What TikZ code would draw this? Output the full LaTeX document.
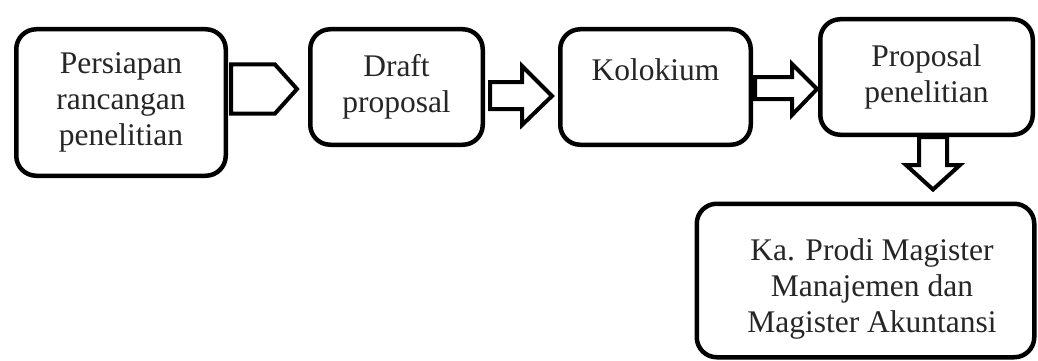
\documentclass[tikz,border=0pt]{standalone}
\usepackage{fontspec}
\setmainfont{Liberation Serif}
\usetikzlibrary{calc}
\begin{document}
\begin{tikzpicture}[x=1pt,y=-1pt,
  box/.style={draw=black, line width=4.5pt, rounded corners=20pt, fill=white, inner sep=0pt, align=center,
    font=\fontsize{31.5}{36}\selectfont, text=black!85},
  txt/.style={inner sep=0pt, align=center, font=\fontsize{31.5}{36}\selectfont, text=black!85},
  blockarrow/.style={draw=black, line width=4pt, fill=white, line join=miter}]
\useasboundingbox (0,0) rectangle (1038,361);
\node[box, minimum width=209.5pt, minimum height=146.5pt] (b1) at (121,102.5) {Persiapan\\rancangan\\penelitian};
\node[box, minimum width=172.5pt, minimum height=115.5pt] (b2) at (396.5,87) {Draft\\proposal};
\node[box, minimum width=190.5pt, minimum height=115.5pt] (b3) at (655.5,87) {};
\node[txt, anchor=north] (t3) at (655.5,58) {Kolokium};
\node[box, minimum width=212.5pt, minimum height=115.5pt] (b4) at (926.5,77) {Proposal\\penelitian};
\node[box, minimum width=337.5pt, minimum height=153.5pt] (b5) at (865.5,280.5) {};
\node[txt] (t5) at (872,289) {Ka. Prodi Magister\\Manajemen dan\\Magister Akuntansi};
% arrow 1: pentagon from b1 to b2
\draw[blockarrow] ($(b1.east)+(3,-38)$) -- ++(44,0) -- ($(b2.west)+(-11,2)$) -- ($(b1.east)+(47,11)$) -- ($(b1.east)+(3,11)$) -- cycle;
% arrow 2: b2 -> b3
\draw[blockarrow] ($(b2.east)+(5,-5)$) -- ++(32,0) -- ++(0,-16) -- ($(b3.west)+(-6,9)$) -- ($(b2.east)+(37,38)$) -- ++(0,-16) -- ($(b2.east)+(5,22)$) -- cycle;
% arrow 3: b3 -> b4
\draw[blockarrow] ($(b3.east)+(2,-10)$) -- ++(37,0) -- ++(0,-13) -- ($(b4.west)+(-1,12)$) -- ($(b3.east)+(39,28)$) -- ++(0,-16) -- ($(b3.east)+(2,12)$) -- cycle;
% arrow 4: b4 -> b5
\coordinate (a4) at ($(b4.south)+(6.5,0)$);
\draw[blockarrow] ($(a4)+(-14,0)$) -- ++(0,28) -- ++(-13,0) -- ($(b5.north)+(67.5,-12)$) -- ($(a4)+(27,28)$) -- ++(-13,0) -- ($(a4)+(14,0)$) -- cycle;
\end{tikzpicture}
\end{document}
